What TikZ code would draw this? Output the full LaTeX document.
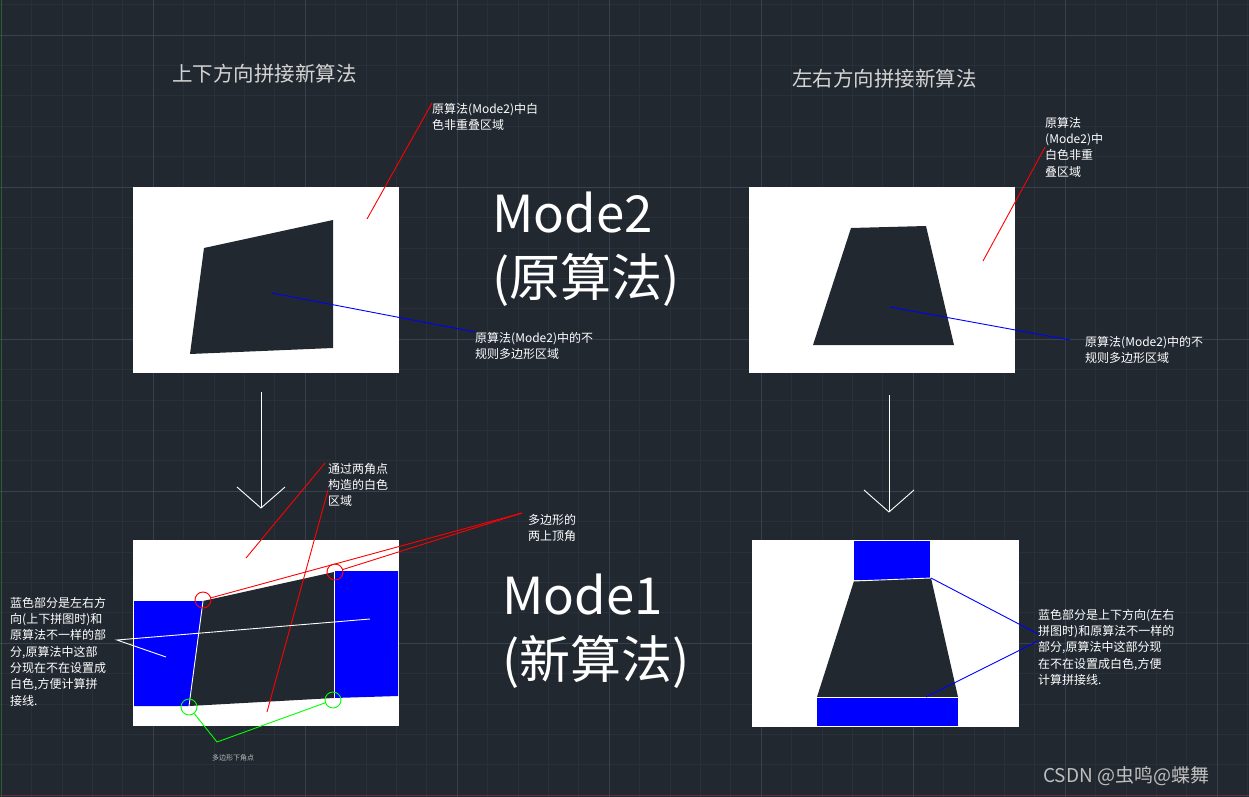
\documentclass[tikz,border=0pt]{standalone}
\usepackage{fontspec}
\setmainfont{Noto Sans CJK SC}
\usetikzlibrary{positioning}
\definecolor{cadbg}{HTML}{212830}
\definecolor{gridmin}{HTML}{29303A}
\definecolor{gridmaj}{HTML}{394050}
\definecolor{axisx}{HTML}{6A2C34}
\definecolor{axisy}{HTML}{2E5C38}
\definecolor{cadblue}{HTML}{0000FF}
\definecolor{cadred}{HTML}{FF0000}
\definecolor{cadgreen}{HTML}{00FF00}
\definecolor{titlegray}{HTML}{D4D4D4}
\definecolor{markgray}{HTML}{BEBEBE}

\begin{document}
\begin{tikzpicture}[x=1pt,y=-1pt,
  note/.style={anchor=north west, inner sep=0pt, align=left, text=white,
               font=\fontsize{12}{16.3}\selectfont},
  heading/.style={anchor=west, inner sep=0pt, text=titlegray,
                  font=\fontsize{20.5}{24}\selectfont},
  modetext/.style={anchor=north west, inner sep=0pt, align=left, text=white,
                   font=\fontsize{51}{64}\selectfont},
  sheet/.style={fill=white},
  hole/.style={fill=cadbg},
  patch/.style={fill=cadblue},
  redlead/.style={cadred, line width=0.9pt},
  bluelead/.style={cadblue, line width=0.9pt},
  greenlead/.style={cadgreen, line width=0.9pt},
  whitelead/.style={white, line width=0.9pt},
  redring/.style={circle, draw=cadred, line width=0.9pt, minimum size=16pt, inner sep=0pt},
  greenring/.style={circle, draw=cadgreen, line width=0.9pt, minimum size=16pt, inner sep=0pt}]

  % background and cad grid
  \fill[cadbg] (0,0) rectangle (1249,797);
  \useasboundingbox (0,0) rectangle (1249,797);
  \foreach \gx in {0,...,41} \draw[gridmin, line width=0.6pt] (1+\gx*30.4,0) -- ++(0,797);
  \foreach \gy in {0,...,26} \draw[gridmin, line width=0.6pt] (0,4.6+\gy*30.4) -- ++(1249,0);
  \foreach \gx in {1,...,8} \draw[gridmaj, line width=0.9pt] (1+\gx*152,0) -- ++(0,797);
  \foreach \gy in {0,...,4} \draw[gridmaj, line width=0.9pt] (0,35+\gy*152) -- ++(1249,0);
  \draw[axisy, line width=1pt] (1,0) -- (1,797);
  \draw[axisx, line width=1pt] (0,795) -- (1249,795);

  % headings
  \node[heading] (hvert) at (172,74) {上下方向拼接新算法};
  \node[heading] (hhorz) at (792,79) {左右方向拼接新算法};

  % mode2, vertical stitching
  \fill[sheet] (133,187) rectangle (399,373);
  \fill[hole] (204,248) -- (333,220) -- (333,348) -- (190,354) -- cycle;
  \coordinate (vwhite) at (367,219);
  \coordinate (vpoly) at (272,293);
  \node[note] (vwnote) at (432,103) {原算法(Mode2)中白\\色非重叠区域};
  \node[note] (vpnote) at (475,332) {原算法(Mode2)中的不\\规则多边形区域};
  \draw[redlead] (vwhite) -- (vwnote.north west);
  \draw[bluelead] (vpoly) -- (vpnote.north west);

  % mode2, horizontal stitching
  \fill[sheet] (749,187) rectangle (1015,373);
  \fill[hole] (851,228) -- (926,226) -- (954,345) -- (813,345) -- cycle;
  \coordinate (hwhite) at (983,261);
  \coordinate (hpoly) at (890,307);
  \coordinate (hpend) at (1070,340);
  \node[note] (hwnote) at (1045,117) {原算法\\(Mode2)中\\白色非重\\叠区域};
  \node[note] (hpnote) at (1085,336) {原算法(Mode2)中的不\\规则多边形区域};
  \draw[redlead] (hwhite) -- (hwnote.west);
  \draw[bluelead] (hpoly) -- (hpend);

  \node[modetext] (mtwo) at (492,192) {Mode2\\(原算法)};

  % arrows
  \coordinate (vtail) at (261,392);
  \coordinate (vtip) at (261,508);
  \coordinate (htail) at (889,395);
  \coordinate (htip) at (889,512);
  \draw[whitelead] (vtail) -- (vtip);
  \draw[whitelead] ([shift={(-24,-21)}]vtip) -- (vtip) -- ([shift={(24,-21)}]vtip);
  \draw[whitelead] (htail) -- (htip);
  \draw[whitelead] ([shift={(-25,-22)}]htip) -- (htip) -- ([shift={(25,-22)}]htip);

  % mode1, vertical stitching
  \fill[sheet] (133,540) rectangle (399,726);
  \fill[hole] (203,601) -- (334,572) -- (334,698) -- (189,706) -- cycle;
  \fill[patch] (134,601) -- (203,601) -- (189,706) -- (134,706) -- cycle;
  \fill[patch] (334,571) -- (398,571) -- (398,696) -- (334,698) -- cycle;
  \draw[whitelead] (203,601) -- (189,706);
  \draw[whitelead] (334,571) -- (334,698);
  \node[redring] (ctl) at (203,600) {};
  \node[redring] (ctr) at (335,572) {};
  \node[greenring] (cbl) at (189,707) {};
  \node[greenring] (cbr) at (333,700) {};

  \node[note] (cornote) at (528,514) {多边形的\\两上顶角};
  \coordinate (corend) at (522,513);
  \draw[redlead] (ctl) -- (corend);
  \draw[redlead] (ctr) -- (corend);

  \node[note] (cwnote) at (328,463) {通过两角点\\构造的白色\\区域};
  \coordinate (cwa) at (246,558);
  \coordinate (cwb) at (267,712);
  \draw[redlead] ([xshift=-3pt]cwnote.north west) -- (cwa);
  \draw[redlead] ([shift={(0,27)}]cwnote.north west) -- (cwb);

  \coordinate (lowv) at (217,742);
  \draw[greenlead] (cbl) -- (lowv) -- (cbr);
  \node[inner sep=0pt, text=markgray, font=\fontsize{7}{8}\selectfont] (lownote) at (233,758) {多边形下角点};

  \node[note] (lrnote) at (10,597) {蓝色部分是左右方\\向(上下拼图时)和\\原算法不一样的部\\分,原算法中这部\\分现在不在设置成\\白色,方便计算拼\\接线.};
  \coordinate (lrfork) at (117,640);
  \coordinate (lrright) at (370,619);
  \coordinate (lrleft) at (166,657);
  \draw[whitelead] (lrright) -- (lrfork) -- (lrleft);

  % mode1, horizontal stitching
  \fill[sheet] (752,540) rectangle (1019,727);
  \fill[patch] (854,541) rectangle (930,580);
  \fill[hole] (854,581) -- (931,578) -- (958,697) -- (817,697) -- cycle;
  \fill[patch] (817,698) rectangle (958,726);
  \draw[whitelead] (854,581) -- (931,578);
  \draw[whitelead] (817,697) -- (958,697);
  \coordinate (udtop) at (931,578);
  \coordinate (udlow) at (926,697);
  \coordinate (udend) at (1038,634);
  \coordinate (udend2) at (1038,641);
  \node[note] (udnote) at (1038,609) {蓝色部分是上下方向(左右\\拼图时)和原算法不一样的\\部分,原算法中这部分现\\在不在设置成白色,方便\\计算拼接线.};
  \draw[bluelead] (udtop) -- (udend);
  \draw[bluelead] (udlow) -- (udend2);

  \node[modetext] (mone) at (502,574) {Mode1\\(新算法)};

  \node[anchor=west, inner sep=0pt, text=markgray, font=\fontsize{19}{22}\selectfont] (mark) at (1043,776) {CSDN @虫鸣@蝶舞};
\end{tikzpicture}
\end{document}
